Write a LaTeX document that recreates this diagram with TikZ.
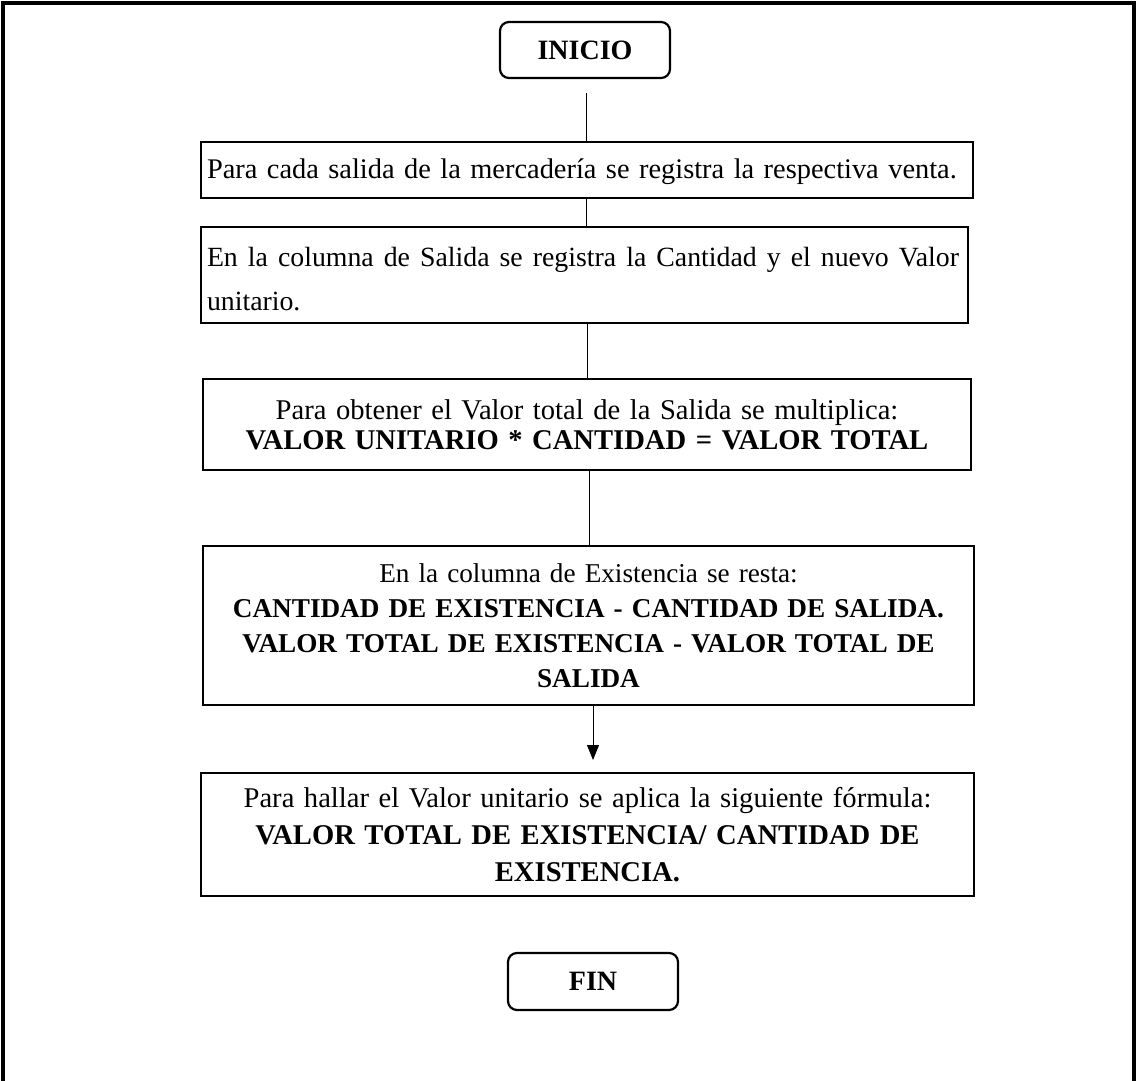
\documentclass[tikz,border=0pt]{standalone}
\usepackage{fontspec}
\setmainfont{Liberation Serif}
\usetikzlibrary{arrows.meta}
\begin{document}
\begin{tikzpicture}[x=0.5pt,y=-0.5pt,
  procbox/.style={draw, line width=1.4pt, inner xsep=3pt, inner ysep=0pt, anchor=center},
  termbox/.style={draw, line width=1.1pt, rounded corners=4.5pt, minimum width=85pt, anchor=center, font=\fontsize{14}{16}\selectfont\bfseries},
  conn/.style={line width=0.5pt},
  frameline/.style={line width=1.6pt}]
\useasboundingbox (0,0) rectangle (1137,1081);
\fill[white] (0,0) rectangle (1137,1081);
\draw[frameline] (3,1090) -- (3,3) -- (1134,3) -- (1134,1090);

\node[termbox, minimum height=28pt] (ini) at (585,50) {INICIO};

\node[procbox, minimum width=386pt, minimum height=28pt, text width=380pt, align=left,
  font=\fontsize{14.2}{16}\selectfont] (b1) at (587,170)
  {\rule{0pt}{12pt}Para cada salida de la mercadería se registra la respectiva venta.};

\node[procbox, minimum width=383.5pt, minimum height=48pt, text width=377.5pt, align=left,
  font=\fontsize{13.9}{22}\selectfont] (b2) at (584.5,275)
  {\rule{0pt}{14pt}\hbox to 376pt{\spaceskip=0.25em plus 1fil\relax En la columna de Salida se registra la Cantidad y el nuevo Valor}\\unitario.};

\node[procbox, minimum width=384pt, minimum height=45.5pt, text width=378pt, align=center,
  font=\fontsize{14.3}{14.8}\selectfont] (b3) at (587,424.5)
  {Para obtener el Valor total de la Salida se multiplica:\\
   \textbf{VALOR UNITARIO * CANTIDAD = VALOR TOTAL}};

\node[procbox, minimum width=385.5pt, minimum height=79.5pt, text width=379.5pt, align=center,
  font=\fontsize{13.6}{17.6}\selectfont] (b4) at (588.5,625.5)
  {En la columna de Existencia se resta:\\
   \textbf{CANTIDAD DE EXISTENCIA - CANTIDAD DE SALIDA.}\\
   \textbf{VALOR TOTAL DE EXISTENCIA - VALOR TOTAL DE}\\
   \textbf{SALIDA}};

\node[procbox, minimum width=386.5pt, minimum height=61.5pt, text width=380.5pt, align=center,
  font=\fontsize{14.3}{18.4}\selectfont] (b5) at (587.5,834.5)
  {Para hallar el Valor unitario se aplica la siguiente fórmula:\\
   \textbf{VALOR TOTAL DE EXISTENCIA/ CANTIDAD DE}\\
   \textbf{EXISTENCIA.}};

\node[termbox, minimum height=28.5pt] (fin) at (593,981.5) {FIN};

\coordinate (c0) at (586,93);
\coordinate (x1) at (586,0);
\coordinate (x2) at (587,0);
\coordinate (x3) at (589,0);
\coordinate (x4) at (593,0);
\coordinate (tip) at (593,760);

\draw[conn] (c0) -- (c0 |- b1.north);
\draw[conn] (b1.south -| x1) -- (b2.north -| x1);
\draw[conn] (b2.south -| x2) -- (b3.north -| x2);
\draw[conn] (b3.south -| x3) -- (b4.north -| x3);
\draw[conn, -{Triangle[length=7.5pt,width=6pt]}] (b4.south -| x4) -- (tip);
\end{tikzpicture}
\end{document}
